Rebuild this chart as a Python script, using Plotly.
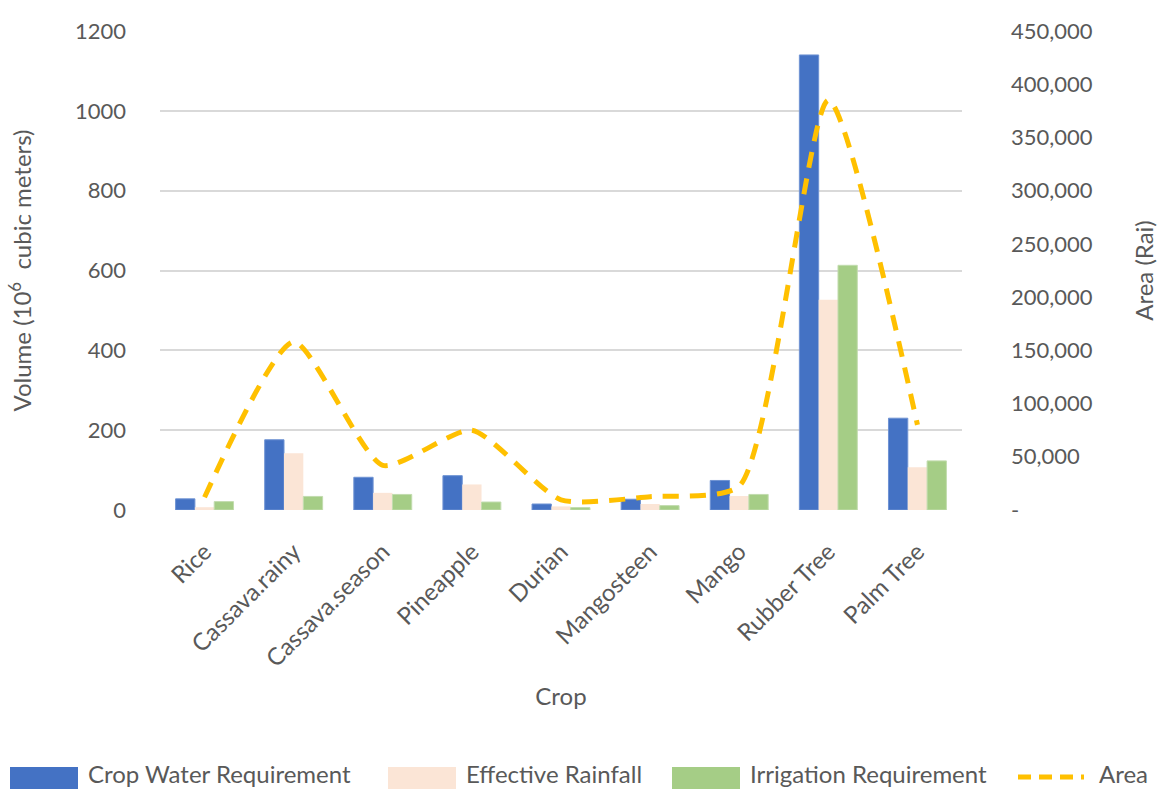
import plotly.graph_objects as go

crops = ["Rice", "Cassava.rainy", "Cassava.season", "Pineapple", "Durian",
         "Mangosteen", "Mango", "Rubber Tree", "Palm Tree"]
crop_water_req = [28, 176, 82, 86, 15, 27, 74, 1140, 230]
effective_rain = [7, 142, 43, 64, 9, 15, 35, 527, 107]
irrigation_req = [21, 34, 39, 20, 6, 11, 39, 613, 123]
area_rai = [12000, 158000, 42000, 75000, 9500, 12500, 22500, 385000, 80000]

left_ticks = [0, 200, 400, 600, 800, 1000, 1200]
right_ticks = [0, 50000, 100000, 150000, 200000, 250000, 300000, 350000, 400000, 450000]
right_labels = ["-"] + [f"{v:,}" for v in right_ticks[1:]]

FONT = "Lato"
TXT = "#595959"
GRID = "#d9d9d9"
BLUE, PEACH, GREEN, GOLD = "#4472c4", "#fbe5d6", "#a5cd86", "#ffc000"

W, H = 1161, 789
ML, MR, MT, MB = 160, 199, 31, 279
PW, PH = W - ML - MR, H - MT - MB


def px_x(px):
    return (px - ML) / PW


def px_y(py):
    return (H - MB - py) / PH


fig = go.Figure()
fig.add_bar(x=crops, y=crop_water_req, name="Crop Water Requirement",
            marker=dict(color=BLUE, line=dict(color="#6f93d3", width=1)))
fig.add_bar(x=crops, y=effective_rain, name="Effective Rainfall",
            marker=dict(color=PEACH, line=dict(width=0)))
fig.add_bar(x=crops, y=irrigation_req, name="Irrigation Requirement",
            marker=dict(color=GREEN, line=dict(color="#c2dcae", width=1)))
fig.add_scatter(x=crops, y=area_rai, name="Area", yaxis="y2", mode="lines",
                line=dict(color=GOLD, width=5, dash="16px,11px",
                          shape="spline", smoothing=0.6))

# Single-row legend along the bottom edge, drawn as shapes + labels
legend_items = [
    ("rect", BLUE, "Crop Water Requirement", 10),
    ("rect", PEACH, "Effective Rainfall", 388),
    ("rect", GREEN, "Irrigation Requirement", 672),
    ("line", GOLD, "Area", 1018),
]
shapes, annots = [], []
for kind, color, label, x0 in legend_items:
    if kind == "rect":
        shapes.append(dict(type="rect", xref="paper", yref="paper",
                           x0=px_x(x0), x1=px_x(x0 + 68), y0=px_y(789), y1=px_y(767),
                           fillcolor=color, line=dict(width=0)))
        tx = x0 + 76
    else:
        shapes.append(dict(type="line", xref="paper", yref="paper",
                           x0=px_x(x0), x1=px_x(x0 + 66), y0=px_y(777), y1=px_y(777),
                           line=dict(color=color, width=5, dash="13px,8px")))
        tx = x0 + 79
    annots.append(dict(text=label, xref="paper", yref="paper", x=px_x(tx), y=px_y(773),
                       xanchor="left", yanchor="middle", showarrow=False,
                       font=dict(size=24, color=TXT, family=FONT)))

fig.update_layout(
    width=W, height=H,
    margin=dict(l=ML, r=MR, t=MT, b=MB, autoexpand=False),
    plot_bgcolor="white", paper_bgcolor="white",
    barmode="group", bargap=0.35, bargroupgap=0,
    font=dict(family=FONT, color=TXT, size=17),
    showlegend=False,
    shapes=shapes, annotations=annots,
    xaxis=dict(tickangle=-45, tickfont=dict(size=24, color=TXT), automargin=False,
               title=dict(text="Crop", font=dict(size=24, color=TXT), standoff=17),
               showline=False, ticks="", showgrid=False, ticklabelstandoff=22),
    yaxis=dict(range=[0, 1200], tickvals=left_ticks, showgrid=True, automargin=False,
               gridcolor=GRID, gridwidth=1.5, zeroline=False, showline=False,
               ticks="", tickfont=dict(size=22, color=TXT), ticklabelstandoff=33,
               title=dict(text="Volume (10<sup>6</sup>  cubic meters)",
                          font=dict(size=24, color=TXT), standoff=36)),
    yaxis2=dict(range=[0, 450000], overlaying="y", side="right", automargin=False,
                tickvals=right_ticks, ticktext=right_labels, showgrid=False,
                zeroline=False, showline=False, ticks="",
                tickfont=dict(size=22, color=TXT), ticklabelstandoff=48,
                title=dict(text="Area (Rai)", font=dict(size=24, color=TXT),
                           standoff=44)),
)

fig.write_html("out.html")
